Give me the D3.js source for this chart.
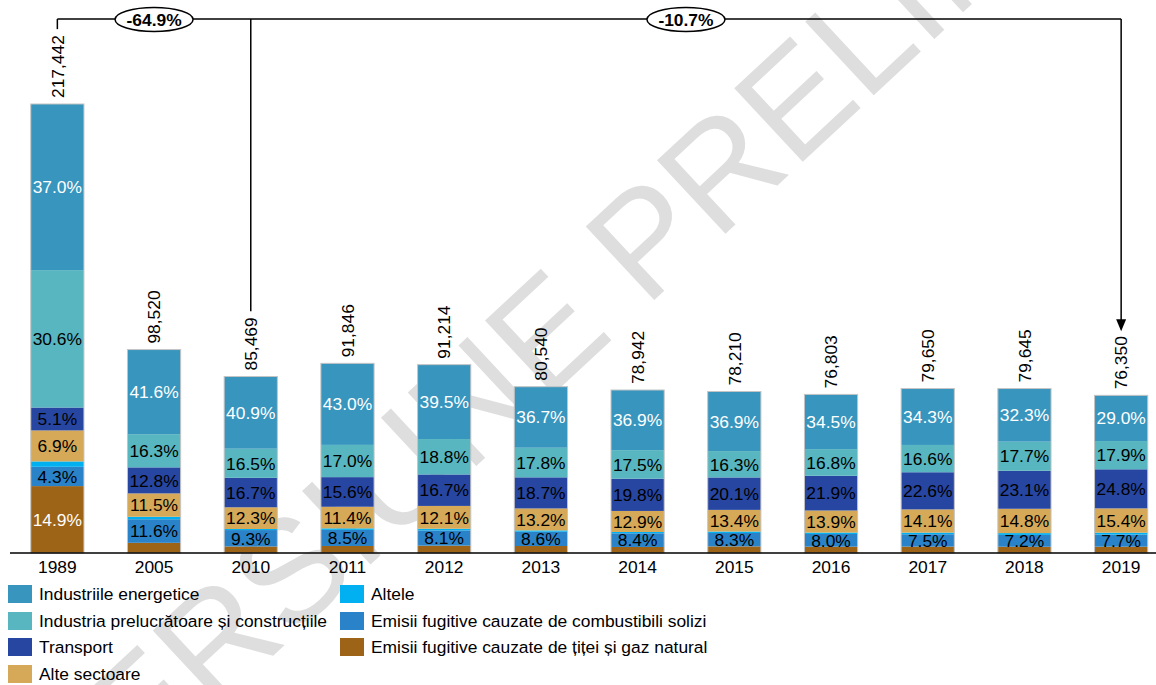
<!DOCTYPE html>
<html><head><meta charset="utf-8">
<script src="https://cdn.jsdelivr.net/npm/d3@7"></script>
<style>
body{margin:0;background:#fff}
svg{display:block}
text{font-family:"Liberation Sans",Arial,sans-serif}
</style>
</head><body>
<svg id="c" width="1156" height="685"></svg>
<script>
// ---------- data ----------
const years = ["1989","2005","2010","2011","2012","2013","2014","2015","2016","2017","2018","2019"];
const totals = [217442, 98520, 85469, 91846, 91214, 80540, 78942, 78210, 76803, 79650, 79645, 76350];

// shares (%) per sector (bottom to top of each bar)
const shareOilGas   = [14.9, 5.0, 3.7, 3.7, 3.9, 4.2, 3.7, 4.1, 4.0, 3.9, 3.8, 4.0];
const shareSolid    = [4.3, 11.6, 9.3, 8.5, 8.1, 8.6, 8.4, 8.3, 8.0, 7.5, 7.2, 7.7];
const shareAltele   = [1.2, 1.2, 0.6, 0.8, 0.9, 0.8, 0.8, 0.9, 0.9, 1.0, 1.1, 1.2];
const shareAlteSect = [6.9, 11.5, 12.3, 11.4, 12.1, 13.2, 12.9, 13.4, 13.9, 14.1, 14.8, 15.4];
const shareTransport= [5.1, 12.8, 16.7, 15.6, 16.7, 18.7, 19.8, 20.1, 21.9, 22.6, 23.1, 24.8];
const shareIndPrel  = [30.6, 16.3, 16.5, 17.0, 18.8, 17.8, 17.5, 16.3, 16.8, 16.6, 17.7, 17.9];
const shareEnerg    = [37.0, 41.6, 40.9, 43.0, 39.5, 36.7, 36.9, 36.9, 34.5, 34.3, 32.3, 29.0];

const seriesKeys = ["oil","solid","altele","alte","transport","indprel","energ"];
const seriesNames = {
  energ: "Industriile energetice",
  indprel: "Industria prelucrătoare și construcțiile",
  transport: "Transport",
  alte: "Alte sectoare",
  altele: "Altele",
  solid: "Emisii fugitive cauzate de combustibili solizi",
  oil: "Emisii fugitive cauzate de țiței și gaz natural"
};
const seriesShares = {oil:shareOilGas, solid:shareSolid, altele:shareAltele, alte:shareAlteSect,
  transport:shareTransport, indprel:shareIndPrel, energ:shareEnerg};
const colors = {energ:"#3795be", indprel:"#57b6bf", transport:"#2746a2", alte:"#d5a957",
  altele:"#00b0f0", solid:"#2a83c9", oil:"#9d6418"};
const labelColors = {energ:"#fff", indprel:"#000", transport:"#000", alte:"#000",
  altele:"#000", solid:"#000", oil:"#fff"};

const legendCol1 = ["energ","indprel","transport","alte"];
const legendCol2 = ["altele","solid","oil"];

// change annotations: from year -> to year
const changes = [{from:"1989", to:"2019", via:"2010", label:"-64.9%"},
                 {from:"2010", to:"2019", label:"-10.7%"}];

const watermark = "VERSIUNE PRELIMINARĂ";

// ---------- build table ----------
const table = years.map((y,i)=>{
  const row = {year:y, total:totals[i]};
  seriesKeys.forEach(k=> row[k] = totals[i]*seriesShares[k][i]/100);
  return row;
});
const stacked = d3.stack().keys(seriesKeys)(table);

// ---------- scales ----------
const svg = d3.select("#c");
const x = d3.scaleBand().domain(years).range([9, 1169.5]).paddingInner(0.45).paddingOuter(0.225);
const y = d3.scaleLinear().domain([0, 250000]).range([553, 553 - 250000*449/217442]);
const fs = 17.4;

// ---------- watermark (behind) ----------
svg.append("text")
  .attr("transform","translate(70,845) rotate(-43)")
  .attr("font-size",146)
  .attr("fill","#dedede")
  .text(watermark);

// ---------- bars ----------
const gBars = svg.append("g");
stacked.forEach(layer=>{
  const k = layer.key;
  gBars.selectAll(null).data(layer).join("rect")
    .attr("x", d=>x(d.data.year))
    .attr("width", x.bandwidth())
    .attr("y", d=>y(d[1]))
    .attr("height", d=>y(d[0])-y(d[1]))
    .attr("fill", colors[k]);
});
// bar outlines
gBars.selectAll(null).data(table).join("rect")
  .attr("x", d=>x(d.year)).attr("width", x.bandwidth())
  .attr("y", d=>y(d.total)).attr("height", d=>y(0)-y(d.total))
  .attr("fill","none").attr("stroke","#c4c4c4").attr("stroke-width",1);

// segment labels
stacked.forEach(layer=>{
  const k = layer.key;
  if (k==="altele") return;
  const shares = seriesShares[k];
  gBars.selectAll(null).data(layer.filter((d,i)=> k!=="oil" || shares[years.indexOf(d.data.year)]>10))
    .join("text")
    .attr("x", d=>x(d.data.year)+x.bandwidth()/2)
    .attr("y", d=>(y(d[0])+y(d[1]))/2)
    .attr("dy","0.36em")
    .attr("text-anchor","middle")
    .attr("font-size",fs)
    .attr("fill",labelColors[k])
    .text(d=> shares[years.indexOf(d.data.year)].toFixed(1)+"%");
});

// totals (rotated)
const fmt = d3.format(",");
const totalLabels = svg.append("g").selectAll(null).data(table).join("text")
  .attr("transform", d=>`translate(${x(d.year)+x.bandwidth()/2},${y(d.total)-6}) rotate(-90)`)
  .attr("dy","0.36em")
  .attr("font-size",fs)
  .attr("fill","#000")
  .text(d=>fmt(d.total));
const labelTop = {};
totalLabels.each(function(d){ labelTop[d.year] = y(d.total)-6-this.getComputedTextLength(); });

// ---------- axis ----------
const axis = svg.append("g").attr("transform",`translate(0,${y(0)})`)
  .call(d3.axisBottom(x).tickSize(0).tickPadding(8));
axis.select(".domain").attr("d","M10,0H1156").attr("stroke","#000").attr("stroke-width",1.6);
axis.selectAll(".tick text").attr("font-size",fs).attr("font-family","Liberation Sans, Arial, sans-serif").attr("fill","#000");

// ---------- change brackets ----------
const cx = yr => x(yr)+x.bandwidth()/2;
const lineY = 19;
const gA = svg.append("g").attr("stroke","#000").attr("stroke-width",1.5).attr("fill","none");
gA.append("line").attr("x1",cx("1989")).attr("x2",cx("2019")).attr("y1",lineY).attr("y2",lineY);
gA.append("line").attr("x1",cx("1989")).attr("x2",cx("1989")).attr("y1",lineY).attr("y2",labelTop["1989"]-6);
gA.append("line").attr("x1",cx("2010")).attr("x2",cx("2010")).attr("y1",lineY).attr("y2",labelTop["2010"]-6);
const tipY = labelTop["2019"]-5;
gA.append("line").attr("x1",cx("2019")).attr("x2",cx("2019")).attr("y1",lineY).attr("y2",tipY-10);
svg.append("path")
  .attr("d",`M${cx("2019")-5},${tipY-12}L${cx("2019")+5},${tipY-12}L${cx("2019")},${tipY}Z`)
  .attr("fill","#000");

changes.forEach(c=>{
  const a = c.from, b = c.via || c.to;
  const mx = (cx(a)+cx(b))/2;
  svg.append("ellipse").attr("cx",mx).attr("cy",lineY+0.5).attr("rx",39).attr("ry",12)
    .attr("fill","#fff").attr("stroke","#000").attr("stroke-width",1.5);
  svg.append("text").attr("x",mx).attr("y",lineY+0.5).attr("dy","0.36em")
    .attr("text-anchor","middle").attr("font-size",fs).attr("font-weight","bold")
    .text(c.label);
});

// ---------- legend ----------
const rowY = [594, 621, 647, 674];
const gL = svg.append("g");
function legendCol(keys, x0){
  keys.forEach((k,i)=>{
    gL.append("rect").attr("x",x0).attr("y",rowY[i]-9).attr("width",24).attr("height",18).attr("fill",colors[k]);
    gL.append("text").attr("x",x0+31).attr("y",rowY[i]).attr("dy","0.36em")
      .attr("font-size",fs).attr("fill","#000").text(seriesNames[k]);
  });
}
legendCol(legendCol1, 8);
legendCol(legendCol2, 340);
</script>
</body></html>
